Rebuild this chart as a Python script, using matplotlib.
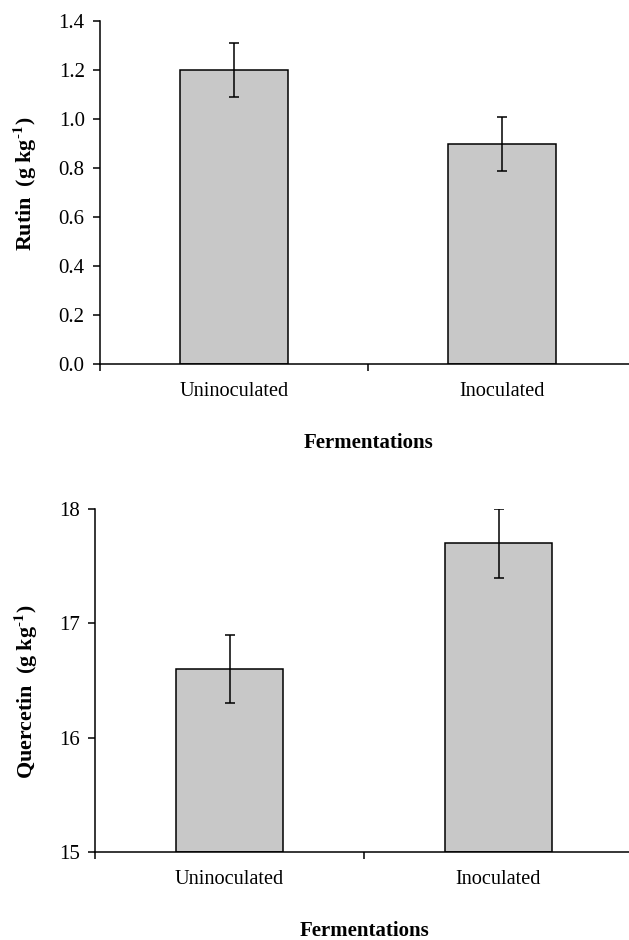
import matplotlib
matplotlib.use('Agg')
import matplotlib.pyplot as plt

# data
groups = ['Uninoculated', 'Inoculated']
rutin = [1.20, 0.90]
rutin_err = [0.11, 0.11]
quercetin = [16.6, 17.7]
quercetin_err = [0.3, 0.3]

plt.rcParams['font.family'] = ['Liberation Serif', 'DejaVu Serif']
plt.rcParams['mathtext.fontset'] = 'stix'


def bar_panel(ax, vals, errs, ylim, yticks, yfmt, ylabel, lab_xy):
    """
    Draws one bar panel in the spreadsheet style of the reference.
    """
    x = list(range(len(groups)))
    ax.bar(x, [v - ylim[0] for v in vals], bottom=ylim[0], width=0.4,
           color='#c8c8c8', edgecolor='black', linewidth=1.1, zorder=2)
    ax.errorbar(x, vals, yerr=errs, fmt='none', ecolor='black',
                elinewidth=1.1, capsize=3.3, capthick=1.1, zorder=3)
    ax.set_xlim(-0.5, 1.5)
    ax.set_ylim(*ylim)
    ax.set_yticks(yticks)
    ax.set_yticklabels([yfmt % t for t in yticks], fontsize=15)
    ax.set_xticks([-0.5, 0.5, 1.5])
    ax.set_xticklabels([])
    ax.set_xticks(x, minor=True)
    ax.set_xticklabels(groups, minor=True, fontsize=14.6)
    ax.tick_params(axis='x', which='minor', length=0, pad=13)
    ax.tick_params(axis='both', which='major', length=5, width=1.1,
                   direction='out')
    ax.tick_params(axis='y', pad=6)
    for s in ['top', 'right']:
        ax.spines[s].set_visible(False)
    for s in ['left', 'bottom']:
        ax.spines[s].set_linewidth(1.1)
    ax.set_ylabel(ylabel, fontsize=15.8, fontweight='bold')
    ax.yaxis.set_label_coords(*lab_xy)
    ax.set_xlabel('Fermentations', fontsize=15, fontweight='bold',
                  labelpad=23)


fig = plt.figure(figsize=(6.29, 9.40), dpi=100)
ax1 = fig.add_axes([100 / 629, 1 - 364.3 / 940, 536 / 629, 343.3 / 940])
ax2 = fig.add_axes([95 / 629, 1 - 852 / 940, 538 / 629, 343 / 940])

bar_panel(ax1, rutin, rutin_err, (0, 1.4),
          [0, 0.2, 0.4, 0.6, 0.8, 1.0, 1.2, 1.4], '%.1f',
          r'Rutin  (g kg$^{\mathbf{\text{-}1}}$)', (-0.113, 0.525))
bar_panel(ax2, quercetin, quercetin_err, (15, 18),
          [15, 16, 17, 18], '%d',
          r'Quercetin  (g kg$^{\mathbf{\text{-}1}}$)', (-0.103, 0.466))

fig.savefig('out.png', dpi=100)
